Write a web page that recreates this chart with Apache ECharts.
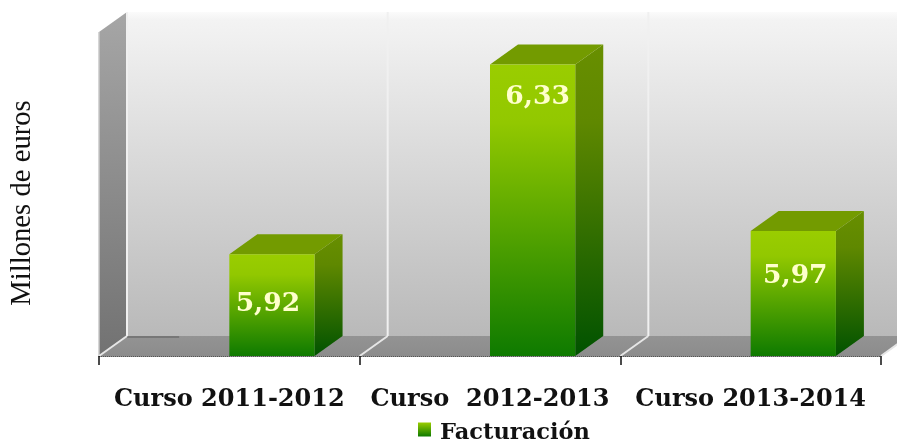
<!DOCTYPE html>
<html>
<head>
<meta charset="utf-8">
<style>
  html, body { margin: 0; padding: 0; background: #fff; }
  #chart { width: 897px; height: 445px; }
</style>
<script src="https://cdn.jsdelivr.net/npm/echarts@6/dist/echarts.min.js"></script>
</head>
<body>
<div id="chart"></div>
<script>
const categories = ['Curso 2011-2012', 'Curso  2012-2013', 'Curso 2013-2014']
const facturacion = [5.92, 6.33, 5.97]
const seriesName = 'Facturación'
const axisTitle = 'Millones de euros'

// fake 3d depth, same for walls and bars
const depthX = 28
const depthY = -20
// data labels were moved by hand in the original
const labelDrop = [50, 33, 45]
const labelShift = [-4, 5, 2]

const serif = '"DejaVu Serif", serif'
const vGrad = (stops) => new echarts.graphic.LinearGradient(0, 0, 0, 1, stops.map((c) => ({ offset: c[0], color: c[1] })))

const poly = (points, fill, z2) => ({ type: 'polygon', z2: z2 || 0, shape: { points }, style: { fill } })
const line = (x1, y1, x2, y2, stroke, width) => ({
  type: 'line',
  shape: { x1, y1, x2, y2 },
  style: { stroke, lineWidth: width }
})

const renderWalls = (params, api) => {
  const band = api.size([1, 0])[0]
  const x0 = api.coord([0, 5.7])[0] - band / 2
  const xEnd = x0 + band * categories.length
  const base = api.coord([0, 5.7])[1]
  const top = api.coord([0, 6.4])[1]
  const kids = [
    // back wall
    poly([[x0 + depthX, top + depthY], [xEnd + depthX, top + depthY], [xEnd + depthX, base + depthY], [x0 + depthX, base + depthY]],
      vGrad([[0, '#fbfbfb'], [0.025, '#f3f3f3'], [1, '#b9b9b9']])),
    // left wall
    poly([[x0, top], [x0 + depthX, top + depthY], [x0 + depthX, base + depthY], [x0, base]],
      vGrad([[0, '#a6a6a6'], [1, '#727272']])),
    // floor
    poly([[x0, base], [x0 + depthX, base + depthY], [xEnd + depthX, base + depthY], [xEnd, base]],
      vGrad([[0, '#939393'], [1, '#8c8c8c']])),
    line(x0, top, x0, base, '#c8c8c8', 1.5),
    line(x0 + depthX, base + depthY + 1, x0 + band / 5 + depthX, base + depthY + 1, '#6e6e6e', 1.5)
  ]
  for (let i = 0; i <= categories.length; i++) {
    const x = x0 + band * i
    kids.push(line(x + depthX, top + depthY, x + depthX, base + depthY, '#f0f0f0', 2))
    kids.push(line(x, base, x + depthX, base + depthY, '#e6e6e6', 2))
  }
  return { type: 'group', children: kids }
}

const renderBar = (params, api) => {
  const i = params.dataIndex
  const val = api.value(1)
  const band = api.size([1, 0])[0]
  const w = band * 0.327
  const tip = api.coord([i, val])
  const base = api.coord([i, 5.7])[1]
  // bars sit right of the band centre, the other series of the original is empty
  const x1 = tip[0]
  const x2 = x1 + w
  return {
    type: 'group',
    children: [
      poly([[x2, tip[1]], [x2 + depthX, tip[1] + depthY], [x2 + depthX, base + depthY], [x2, base]],
        vGrad([[0, '#688f00'], [0.25, '#5f8800'], [1, '#005200']])),
      poly([[x1, tip[1]], [x1 + depthX, tip[1] + depthY], [x2 + depthX, tip[1] + depthY], [x2, tip[1]]], '#739b00'),
      poly([[x1, tip[1]], [x2, tip[1]], [x2, base], [x1, base]],
        vGrad([[0, '#9acd00'], [0.2, '#92c800'], [1, '#0e7a00']])),
      {
        type: 'text',
        z2: 5,
        x: x1 + w / 2 + labelShift[i],
        y: tip[1] + labelDrop[i],
        style: {
          text: val.toFixed(2).replace('.', ','),
          fill: '#ffffcc',
          font: 'bold 26.5px ' + serif,
          align: 'center',
          verticalAlign: 'middle'
        }
      }
    ]
  }
}

const myChart = echarts.init(document.getElementById('chart'))
myChart.setOption({
  animation: false,
  backgroundColor: '#fff',
  grid: { left: 99, right: 16, top: 32, height: 324 },
  graphic: [
    {
      type: 'text',
      x: 22,
      y: 203,
      rotation: Math.PI / 2,
      style: {
        text: axisTitle,
        fill: '#111',
        font: '28.7px "Liberation Serif", serif',
        align: 'center',
        verticalAlign: 'middle'
      }
    }
  ],
  legend: {
    left: 413,
    top: 417,
    itemWidth: 13,
    itemHeight: 14,
    data: [
      {
        name: seriesName,
        icon: 'rect',
        itemStyle: { color: vGrad([[0, '#9acd00'], [1, '#0e7a00']]) }
      }
    ],
    formatter: '{t|{name}}',
    textStyle: {
      rich: {
        t: { fontFamily: serif, fontWeight: 'bold', fontSize: 22.5, color: '#111', padding: [8, 0, 0, 4] }
      }
    }
  },
  xAxis: {
    type: 'category',
    data: categories,
    axisLine: { show: true, onZero: false, lineStyle: { color: '#555', type: 'dotted', width: 1 } },
    axisTick: { show: true, length: 9, lineStyle: { color: '#111', width: 1.5 } },
    axisLabel: {
      margin: 32,
      interval: 0,
      color: '#111',
      fontFamily: serif,
      fontWeight: 'bold',
      fontSize: 24
    },
    z: 5
  },
  yAxis: {
    type: 'value',
    min: 5.7,
    max: 6.4,
    axisLine: { show: false },
    axisTick: { show: false },
    axisLabel: { show: false },
    splitLine: { show: false }
  },
  series: [
    {
      type: 'custom',
      silent: true,
      legendHoverLink: false,
      renderItem: renderWalls,
      data: [[0, 5.7]],
      z: 1
    },
    {
      name: seriesName,
      type: 'custom',
      renderItem: renderBar,
      encode: { x: 0, y: 1 },
      data: facturacion.map((v, i) => [i, v]),
      z: 3
    }
  ]
})
</script>
</body>
</html>
